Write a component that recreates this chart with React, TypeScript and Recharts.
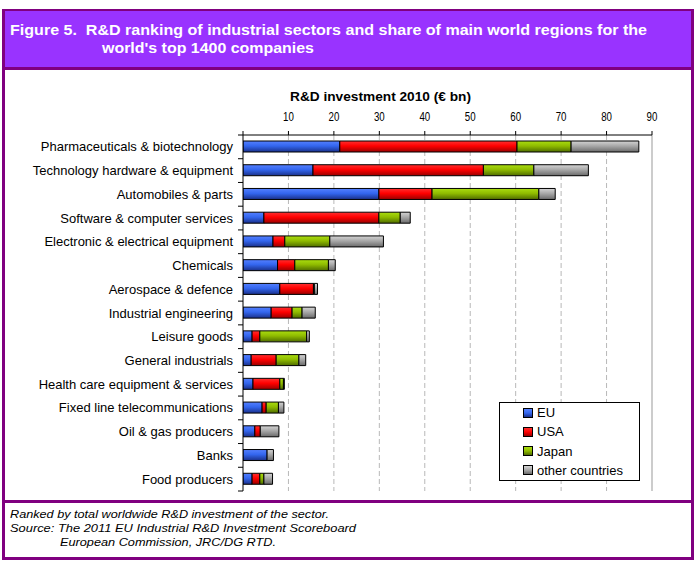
import React from 'react';
import { BarChart, Bar, XAxis, YAxis, CartesianGrid, ReferenceLine, Legend } from 'recharts';

const SECTORS = [
  'Pharmaceuticals & biotechnology',
  'Technology hardware & equipment',
  'Automobiles & parts',
  'Software & computer services',
  'Electronic & electrical equipment',
  'Chemicals',
  'Aerospace & defence',
  'Industrial engineering',
  'Leisure goods',
  'General industrials',
  'Health care equipment & services',
  'Fixed line telecommunications',
  'Oil & gas producers',
  'Banks',
  'Food producers',
];
const EU = [21.3, 15.4, 29.9, 4.6, 6.6, 7.6, 8.1, 6.2, 2.0, 1.8, 2.2, 4.2, 2.6, 5.3, 2.0];
const USA = [39.0, 37.5, 11.7, 25.3, 2.6, 3.8, 7.4, 4.6, 1.7, 5.5, 5.9, 0.9, 1.2, 0, 1.7];
const JAPAN = [11.9, 11.1, 23.5, 4.7, 9.9, 7.4, 0.2, 2.2, 10.3, 5.0, 0.8, 2.7, 0, 0, 0.9];
const OTHER = [14.9, 12.0, 3.6, 2.2, 11.8, 1.5, 0.7, 2.9, 0.6, 1.5, 0.2, 1.2, 4.1, 1.4, 1.9];
const X_TICKS = [0, 10, 20, 30, 40, 50, 60, 70, 80, 90];
const GRID_VALUES = [10, 20, 30, 40, 50, 60, 70, 80];

const SERIES = [
  { key: 'eu', name: 'EU', grad: 'gEU', stops: ['#5580ff', '#3366ee', '#1a308a'] },
  { key: 'usa', name: 'USA', grad: 'gUSA', stops: ['#ff3030', '#ff0000', '#990000'] },
  { key: 'japan', name: 'Japan', grad: 'gJP', stops: ['#aadd10', '#8fbb00', '#4f6c00'] },
  { key: 'other', name: 'other countries', grad: 'gOT', stops: ['#d4d4d4', '#a8a8a8', '#6a6a6a'] },
];

const data = SECTORS.map((name, i) => ({
  name,
  eu: EU[i],
  usa: USA[i],
  japan: JAPAN[i],
  other: OTHER[i],
}));

const FONT = "'Liberation Sans', Arial, Helvetica, sans-serif";
const W = 696;
const H = 567;
const MARGIN = { top: 105, right: 44, bottom: 76, left: 0 };
const X_AXIS_H = 30;
const Y_AXIS_W = 243;
const PLOT_LEFT = MARGIN.left + Y_AXIS_W;
const PLOT_H = H - MARGIN.top - MARGIN.bottom - X_AXIS_H;
const BAND = PLOT_H / SECTORS.length;

const XTick = (props: any) => {
  const { x, y, payload } = props;
  if (payload.value === 0) return null;
  const s = String(payload.value);
  return (
    <text x={x} y={y} textAnchor="middle" fontSize={12.5} fontFamily={FONT} fill="#000"
      textLength={s.length * 5.4} lengthAdjust="spacingAndGlyphs">{s}</text>
  );
};

const YTick = (props: any) => {
  const { x, y, payload, index } = props;
  return (
    <g>
      <text x={x} y={y} dy="0.35em" textAnchor="end" fontSize={13} fontFamily={FONT} fill="#000">
        {payload.value}
      </text>
      <line x1={PLOT_LEFT - 5} x2={PLOT_LEFT} y1={y - BAND / 2} y2={y - BAND / 2} stroke="#000" />
      {index === SECTORS.length - 1 && (
        <line x1={PLOT_LEFT - 5} x2={PLOT_LEFT} y1={y + BAND / 2} y2={y + BAND / 2} stroke="#000" />
      )}
    </g>
  );
};

const renderLegend = () => (
  <div style={{ width: 141, height: 79, border: '1px solid #000', boxSizing: 'border-box', background: '#fff', paddingTop: 0 }}>
    {SERIES.map((s, i) => (
      <div key={s.key} style={{ position: 'absolute', left: 24, top: 1 + i * 19.3, height: 19, display: 'flex', alignItems: 'center' }}>
        <span style={{ display: 'inline-block', width: 8, height: 8, border: '1px solid #000', background: `linear-gradient(${s.stops[0]}, ${s.stops[1]}, ${s.stops[2]})`, marginRight: 4 }} />
        <span style={{ fontFamily: FONT, fontSize: 13, color: '#000', lineHeight: '19px' }}>{s.name}</span>
      </div>
    ))}
  </div>
);

export default function App() {
  return (
    <div style={{ position: 'absolute', left: 0, top: 0, width: W, height: H, background: '#fff', fontFamily: FONT }}>
      <svg width={W} height={H} style={{ position: 'absolute', left: 0, top: 0 }}>
        <rect x={2} y={9} width={692} height={551} fill="#800080" />
        <rect x={5} y={11} width={686} height={56} fill="#9933FF" />
        <rect x={5} y={70} width={686} height={430} fill="#fff" />
        <rect x={5} y={503} width={686} height={54} fill="#fff" />
        <text x={10} y={35} fill="#fff" fontFamily={FONT} fontWeight="bold" fontSize={15}
          textLength={637} lengthAdjust="spacingAndGlyphs" style={{ whiteSpace: 'pre' }}>
          {'Figure 5.  R&D ranking of industrial sectors and share of main world regions for the'}
        </text>
        <text x={102} y={52.5} fill="#fff" fontFamily={FONT} fontWeight="bold" fontSize={15}
          textLength={212} lengthAdjust="spacingAndGlyphs">
          world's top 1400 companies
        </text>
        <text x={290} y={100.5} fill="#000" fontFamily={FONT} fontWeight="bold" fontSize={12.5}
          textLength={181} lengthAdjust="spacingAndGlyphs">
          R&amp;D investment 2010 (€ bn)
        </text>
        <text x={10} y={517.5} fill="#000" fontFamily={FONT} fontStyle="italic" fontSize={11}
          textLength={319} lengthAdjust="spacingAndGlyphs">
          Ranked by total worldwide R&amp;D investment of the sector.
        </text>
        <text x={10} y={531.5} fill="#000" fontFamily={FONT} fontStyle="italic" fontSize={11}
          textLength={346} lengthAdjust="spacingAndGlyphs">
          Source: The 2011 EU Industrial R&amp;D Investment Scoreboard
        </text>
        <text x={60} y={545.5} fill="#000" fontFamily={FONT} fontStyle="italic" fontSize={11}
          textLength={216} lengthAdjust="spacingAndGlyphs">
          European Commission, JRC/DG RTD.
        </text>
      </svg>
      <div style={{ position: 'absolute', left: 0, top: 0 }}>
        <BarChart width={W} height={H} data={data} layout="vertical" margin={MARGIN}>
          <defs>
            {SERIES.map((s) => (
              <linearGradient key={s.grad} id={s.grad} x1="0" y1="0" x2="0" y2="1">
                <stop offset="0%" stopColor={s.stops[0]} />
                <stop offset="45%" stopColor={s.stops[1]} />
                <stop offset="100%" stopColor={s.stops[2]} />
              </linearGradient>
            ))}
          </defs>
          <CartesianGrid horizontal={false} vertical={true} stroke="#b8b8b8" strokeDasharray="5 3"
            verticalValues={GRID_VALUES} />
          <XAxis type="number" orientation="top" domain={[0, 90]} ticks={X_TICKS} height={X_AXIS_H}
            axisLine={{ stroke: '#000' }} tickLine={{ stroke: '#000' }} tickSize={4} tickMargin={10}
            tick={<XTick />} interval={0} allowDataOverflow />
          <XAxis xAxisId="bottom" type="number" orientation="bottom" domain={[0, 90]} height={0}
            tick={false} tickLine={false} axisLine={{ stroke: '#999' }} />
          <YAxis type="category" dataKey="name" width={Y_AXIS_W} axisLine={{ stroke: '#000' }}
            tickLine={false} tickSize={0} tickMargin={10} tick={<YTick />} interval={0} />
          <ReferenceLine x={90} stroke="#999" strokeWidth={1} />
          {SERIES.map((s) => (
            <Bar key={s.key} dataKey={s.key} name={s.name} stackId="a" fill={`url(#${s.grad})`}
              stroke="#000" strokeWidth={1} barSize={11} isAnimationActive={false} />
          ))}
          <Legend layout="vertical" align="center" verticalAlign="middle" content={renderLegend}
            wrapperStyle={{ position: 'absolute', left: 499, top: 402, width: 141, height: 79 }} />
        </BarChart>
      </div>
    </div>
  );
}
